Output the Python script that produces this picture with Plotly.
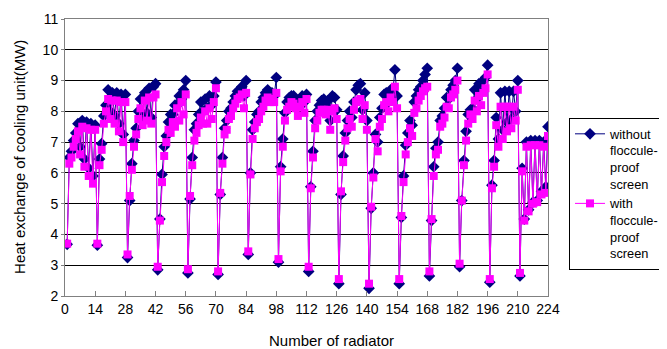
import plotly.graph_objects as go

radiator = list(range(1, 225))

without_screen = [
    3.68, 6.5, 6.7, 7.05, 7.3, 7.6, 6.85, 7.7, 6.45, 7.65, 6.15, 7.6, 5.9, 7.55,
    3.65, 6.45, 6.95, 7.85, 8.2, 8.7, 8.0, 8.6, 7.85, 8.6, 7.6, 8.55, 7.25, 8.55,
    3.25, 5.1, 6.3, 7.05, 7.45, 8.0, 8.4, 7.8, 8.6, 7.95, 8.75, 7.8, 8.8, 8.9,
    2.85, 4.5, 5.95, 6.85, 7.2, 7.65, 7.9, 7.9, 8.2, 8.2, 8.5, 8.4, 8.7, 9.0,
    2.75, 5.15, 6.5, 7.4, 7.6, 7.9, 8.3, 8.0, 8.4, 8.1, 8.5, 8.2, 8.5, 8.95,
    2.7, 5.3, 6.5, 7.45, 7.7, 8.0, 8.1, 8.3, 8.5, 8.65, 8.7, 8.8, 8.5, 9.0,
    3.35, 6.0, 7.4, 7.65, 7.9, 8.0, 8.3, 8.45, 8.6, 8.7, 8.6, 8.6, 8.5, 9.1,
    3.1, 6.2, 7.1, 7.95, 8.3, 8.45, 8.5, 8.5, 8.4, 8.2, 8.4, 8.5, 8.3, 8.55,
    2.8, 5.55, 6.7, 7.7, 8.0, 8.2, 8.35, 8.4, 8.2, 8.35, 7.7, 8.5, 8.45, 8.05,
    2.4, 5.3, 6.55, 7.3, 7.7, 8.0, 7.8, 8.3, 8.7, 8.85, 8.9, 8.05, 8.6, 7.7,
    2.25, 4.85, 6.0, 7.25, 7.0, 7.8, 8.1, 8.55, 8.6, 8.3, 8.7, 8.6, 9.35, 8.5,
    2.4, 4.55, 5.9, 6.9, 7.3, 7.7, 7.55, 8.3, 8.5, 8.7, 8.8, 9.0, 9.2, 9.4,
    2.65, 4.45, 6.2, 6.8, 7.0, 7.7, 7.85, 8.1, 8.45, 8.4, 8.7, 8.85, 9.0, 9.4,
    2.95, 5.1, 6.4, 7.35, 7.9, 8.05, 8.1, 8.7, 8.4, 8.9, 8.6, 9.0, 9.1, 9.5,
    2.45, 5.6, 6.4, 7.8, 7.1, 8.6, 7.4, 8.65, 7.65, 8.65, 7.75, 8.65, 8.0, 9.0,
    2.65, 6.15, 4.5, 7.0, 4.8, 7.05, 5.05, 7.05, 5.1, 7.05, 5.4, 7.0, 5.55, 7.5,
]

with_screen = [
    3.7, 6.3, 6.5, 6.85, 7.1, 7.35, 6.6, 7.5, 6.2, 7.45, 5.9, 7.4, 5.65, 7.4,
    3.7, 6.25, 6.75, 7.6, 8.0, 8.4, 7.75, 8.35, 7.6, 8.35, 7.35, 8.3, 7.0, 8.3,
    3.35, 5.25, 6.1, 6.85, 7.25, 7.75, 8.1, 7.55, 8.35, 7.7, 8.45, 7.6, 8.45, 8.55,
    2.95, 4.45, 5.7, 6.55, 7.0, 7.4, 7.3, 7.65, 7.5, 8.1, 7.7, 8.3, 7.9, 8.55,
    2.87, 5.25, 6.25, 7.05, 7.3, 7.55, 7.8, 7.6, 8.0, 7.6, 8.1, 7.75, 8.3, 8.75,
    2.8, 5.35, 6.3, 7.25, 7.4, 7.75, 7.85, 8.1, 8.25, 8.4, 8.45, 8.55, 8.1, 8.6,
    3.45, 5.95, 7.1, 7.45, 7.65, 7.75, 8.0, 8.15, 8.35, 8.45, 8.3, 8.4, 8.3, 8.6,
    3.2, 6.05, 6.85, 7.7, 8.05, 8.15, 8.3, 8.25, 8.1, 7.85, 8.15, 8.3, 7.95, 8.4,
    2.95, 5.5, 6.5, 7.45, 7.7, 7.95, 8.05, 8.05, 7.9, 8.05, 7.4, 8.0, 8.1, 7.75,
    2.55, 5.4, 6.35, 7.05, 7.45, 7.75, 7.5, 8.05, 8.3, 8.35, 8.4, 7.75, 8.2, 7.4,
    2.4, 4.9, 5.85, 7.1, 6.7, 7.5, 7.75, 8.2, 8.3, 8.0, 8.45, 8.3, 8.8, 8.1,
    2.55, 4.6, 5.7, 6.6, 7.0, 7.45, 7.2, 7.95, 8.1, 8.35, 8.5, 8.65, 8.75, 8.8,
    2.8, 4.5, 5.9, 6.6, 6.75, 7.5, 7.6, 7.8, 8.15, 8.1, 8.45, 8.55, 8.7, 9.0,
    3.05, 5.1, 6.25, 7.05, 7.6, 7.9, 7.75, 8.35, 8.0, 8.5, 8.2, 8.6, 8.75, 9.2,
    2.55, 5.5, 6.2, 7.55, 6.85, 8.15, 7.1, 8.15, 7.35, 8.15, 7.45, 8.15, 7.7, 8.7,
    2.75, 6.05, 4.45, 6.85, 4.75, 6.9, 5.0, 6.9, 5.05, 6.9, 5.3, 6.85, 5.35, 7.2,
]

x_ticks = list(range(0, 225, 14))
y_ticks = list(range(2, 12))

FONT = "Liberation Sans, Arial, sans-serif"

fig = go.Figure()
fig.add_trace(go.Scatter(
    x=radiator, y=without_screen, mode="lines+markers",
    name="without<br>floccule-<br>proof<br>screen",
    line=dict(color="#000080", width=1),
    marker=dict(symbol="diamond", size=9, color="#000080"),
))
fig.add_trace(go.Scatter(
    x=radiator, y=with_screen, mode="lines+markers",
    name="with<br>floccule-<br>proof<br>screen",
    line=dict(color="#FF00FF", width=1),
    marker=dict(symbol="square", size=8, color="#FF00FF"),
))

# page body has an 8px margin, so the figure is 8px smaller and offset
fig.update_layout(
    width=659, height=341,
    margin=dict(l=57, r=119, t=11, b=53, autoexpand=False),
    paper_bgcolor="white", plot_bgcolor="white",
    font=dict(family=FONT, size=14, color="black"),
    showlegend=True,
    legend=dict(
        x=1.0435, y=0.6426, xanchor="left", yanchor="top",
        bordercolor="black", borderwidth=1, bgcolor="white",
        font=dict(family=FONT, size=12.8, color="black"),
        valign="top", tracegroupgap=0, itemwidth=30,
    ),
    xaxis=dict(
        range=[0, 224], tickmode="array", tickvals=x_ticks,
        showgrid=False, zeroline=False,
        showline=True, linecolor="#808080", linewidth=1, mirror=True,
        ticks="inside", ticklen=5, tickcolor="#808080",
        tickfont=dict(family=FONT, size=14, color="black"),
    ),
    yaxis=dict(
        range=[2, 11], tickmode="array", tickvals=y_ticks,
        showgrid=True, gridcolor="black", gridwidth=1, zeroline=False,
        showline=True, linecolor="#808080", linewidth=1, mirror=True,
        ticks="outside", ticklen=3, tickcolor="#808080",
        tickfont=dict(family=FONT, size=14, color="black"),
    ),
    annotations=[
        dict(text="Number of radiator", xref="paper", yref="paper",
             x=(331 - 65) / 483, y=-0.159, xanchor="center", yanchor="middle",
             showarrow=False, font=dict(family=FONT, size=15, color="black")),
        dict(text="Heat exchange of cooling unit(MW)", xref="paper", yref="paper",
             x=-0.0932, y=0.502, xanchor="center", yanchor="middle", textangle=-90,
             showarrow=False, font=dict(family=FONT, size=15, color="black")),
    ],
)

fig.write_html("out.html")
